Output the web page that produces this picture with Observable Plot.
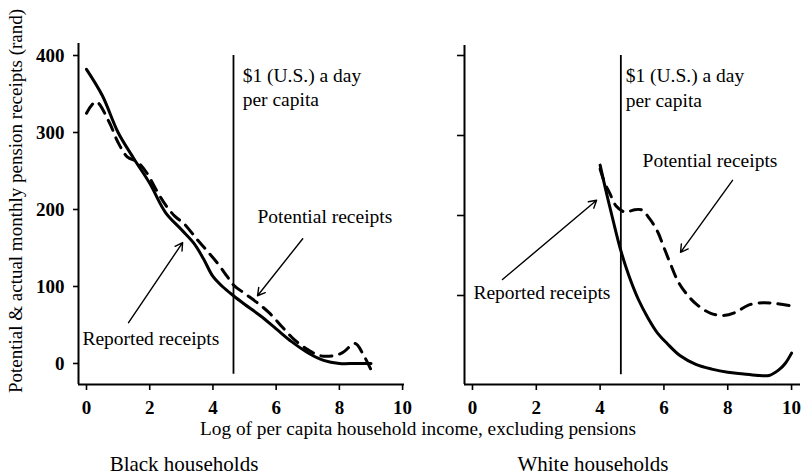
<!DOCTYPE html>
<html>
<head>
<meta charset="utf-8">
<script src="https://cdn.jsdelivr.net/npm/d3@7"></script>
<script src="https://cdn.jsdelivr.net/npm/@observablehq/plot@0.6"></script>
<style>
  html, body { margin: 0; padding: 0; background: #fff; }
  #wrap { position: relative; width: 801px; height: 475px; overflow: hidden; background: #fff; font-family: "Liberation Serif", "Times New Roman", serif; color: #000; }
  #wrap svg { position: absolute; top: 0; overflow: visible; background: transparent !important; }
  .lbl { position: absolute; white-space: nowrap; font-size: 19px; line-height: 1; }
</style>
</head>
<body>
<div id="wrap">
  <div id="left"></div>
  <div id="right"></div>
  <div class="lbl" id="ylab" style="left:15px; top:201px; transform: translate(-50%,-50%) rotate(-90deg); font-size:19px;">Potential &amp; actual monthly pension receipts (rand)</div>
  <div class="lbl" style="left:418px; top:419px; transform: translateX(-50%); font-size:19.3px;">Log of per capita household income, excluding pensions</div>
  <div class="lbl" style="left:184px; top:454px; transform: translateX(-50%); font-size:21px;">Black households</div>
  <div class="lbl" style="left:593px; top:454px; transform: translateX(-50%); font-size:21px;">White households</div>
</div>
<script>
// ---- data ----
const xTicks = [0, 2, 4, 6, 8, 10];
const yTicksBlack = [0, 100, 200, 300, 400];
const yTicksWhite = [100, 200, 300, 400];
const povertyLine = 4.65; // $1 (U.S.) a day per capita, in log income

const blackReportedX = [0, 0.5, 1.0, 1.5, 2.0, 2.5, 3.0, 3.4, 3.7, 4.0, 4.3, 4.65, 5.0, 5.5, 6.0, 6.5, 7.0, 7.5, 8.0, 8.5, 9.0];
const blackReportedY = [382, 348, 300, 266, 234, 196, 174, 156, 136, 113, 100, 88, 77, 62, 45, 28, 14, 4, 0, 0, 0];

const blackPotentialX = [0, 0.3, 0.7, 1.0, 1.3, 1.6, 1.9, 2.2, 2.5, 2.8, 3.1, 3.5, 3.8, 4.15, 4.45, 4.65, 5.0, 5.4, 5.8, 6.2, 6.6, 7.0, 7.4, 7.8, 8.1, 8.5, 8.75, 9.0];
const blackPotentialY = [325, 340, 315, 287, 268, 262, 248, 226, 206, 191, 181, 161, 147, 130, 113, 102, 91, 79, 65, 47, 30, 18, 10, 10, 14, 26, 12, -8];

const whiteReportedX = [4.0, 4.2, 4.4, 4.65, 4.9, 5.2, 5.5, 5.8, 6.1, 6.5, 7.0, 7.5, 8.0, 8.5, 9.0, 9.3, 9.6, 9.8, 10.0];
const whiteReportedY = [263, 228, 195, 156, 125, 95, 72, 53, 40, 25, 14, 8, 4, 2, 0, 0, 7, 15, 28];

const whitePotentialX = [4.0, 4.15, 4.3, 4.5, 4.8, 5.05, 5.3, 5.55, 5.8, 6.0, 6.2, 6.45, 6.75, 7.05, 7.45, 7.85, 8.25, 8.65, 9.1, 9.5, 10.0];
const whitePotentialY = [258, 240, 228, 212, 204, 207, 207, 196, 180, 160, 140, 117, 100, 88, 78, 75, 79, 88, 91, 90, 87];

// annotation labels (data coordinates of each panel)
const blackLabels = [
  {x: 4.94, y: 374, text: "$1 (U.S.) a day"},
  {x: 4.94, y: 342, text: "per capita"},
  {x: 5.41, y: 190, text: "Potential receipts"},
  {x: -0.13, y: 32, text: "Reported receipts"}
];
const whiteLabels = [
  {x: 4.8, y: 375, text: "$1 (U.S.) a day"},
  {x: 4.8, y: 344, text: "per capita"},
  {x: 5.33, y: 269, text: "Potential receipts"},
  {x: 0.03, y: 104, text: "Reported receipts"}
];
const blackArrows = [
  {x1: 1.33, y1: 53, x2: 3.04, y2: 157},
  {x1: 6.84, y1: 162, x2: 5.41, y2: 88}
];
const whiteArrows = [
  {x1: 0.94, y1: 120, x2: 3.89, y2: 219},
  {x1: 8.15, y1: 244, x2: 6.52, y2: 154}
];

const zip = (xs, ys) => xs.map((x, i) => ({x, y: ys[i]}));

function panel({reported, potential, labels, arrows, yTicks, showYLabels, xDomain, yDomain, ruleY,
                width, marginLeft, marginRight, marginTop, yTickSize}) {
  return Plot.plot({
    width, height: 425, marginLeft, marginRight, marginTop, marginBottom: 41,
    style: {fontFamily: "Liberation Serif, Times New Roman, serif", fontSize: "19px", color: "black", overflow: "visible"},
    x: {domain: xDomain},
    y: {domain: yDomain},
    marks: [
      Plot.ruleY([yDomain[0]], {stroke: "black", strokeWidth: 2}),
      Plot.ruleX([xDomain[0]], {stroke: "black", strokeWidth: 2}),
      Plot.axisX({ticks: xTicks, tickSize: 6, tickPadding: 10, label: null, fontWeight: "bold", fontSize: 19, strokeWidth: 1.6}),
      Plot.axisY({ticks: yTicks, tickSize: yTickSize, tickPadding: 9, label: null, fontWeight: "bold", fontSize: 19, strokeWidth: 1.6,
                  tickFormat: showYLabels ? (d => String(d)) : (() => "")}),
      Plot.ruleX([povertyLine], {y1: ruleY[0], y2: ruleY[1], stroke: "black", strokeWidth: 1.8}),
      Plot.line(potential, {x: "x", y: "y", stroke: "black", strokeWidth: 3, strokeDasharray: "11,8", curve: "catmull-rom"}),
      Plot.line(reported, {x: "x", y: "y", stroke: "black", strokeWidth: 3, curve: "catmull-rom"}),
      Plot.arrow(arrows, {x1: "x1", y1: "y1", x2: "x2", y2: "y2", stroke: "black", strokeWidth: 1.4, headLength: 9}),
      Plot.text(labels, {x: "x", y: "y", text: "text", textAnchor: "start", lineAnchor: "middle", fontSize: 19.5, fill: "black"})
    ]
  });
}

const left = panel({
  reported: zip(blackReportedX, blackReportedY),
  potential: zip(blackPotentialX, blackPotentialY),
  labels: blackLabels, arrows: blackArrows,
  yTicks: yTicksBlack, showYLabels: true,
  xDomain: [-0.253, 10.06], yDomain: [-27.3, 415.6], ruleY: [-14, 400],
  width: 420, marginLeft: 78, marginRight: 16, marginTop: 43, yTickSize: 5
});
left.style.left = "0px";
document.getElementById("left").appendChild(left);

const right = panel({
  reported: zip(whiteReportedX, whiteReportedY),
  potential: zip(whitePotentialX, whitePotentialY),
  labels: whiteLabels, arrows: whiteArrows,
  yTicks: yTicksWhite, showYLabels: false,
  xDomain: [-0.25, 10.28], yDomain: [-11.25, 412.5], ruleY: [1, 400],
  width: 401, marginLeft: 64, marginRight: 1, marginTop: 45, yTickSize: 7
});
right.style.left = "400px";
document.getElementById("right").appendChild(right);
</script>
</body>
</html>
